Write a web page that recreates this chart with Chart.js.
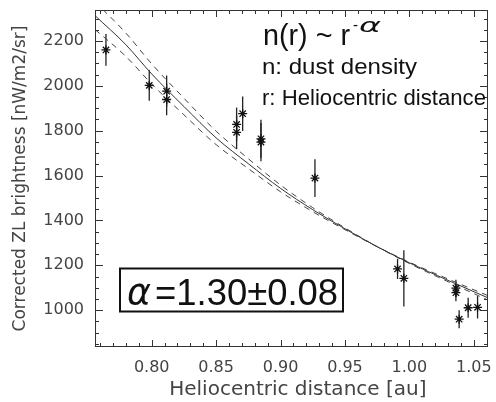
<!DOCTYPE html>
<html><head><meta charset="utf-8">
<script src="https://cdn.jsdelivr.net/npm/chart.js@4.4.1/dist/chart.umd.min.js"></script>
<style>html,body{margin:0;padding:0;background:#fff;}#wrap{width:496px;height:402px;}</style>
</head><body><div id="wrap"><canvas id="c" width="496" height="402"></canvas></div>
<script>
// Observations
const distance      = [0.7645,0.7981,0.8116,0.8116,0.8659,0.8659,0.8706,0.8848,0.8848,0.9267,0.9908,0.9957,1.0361,1.0361,1.0386,1.0456,1.0529];
const brightness    = [2160,2002,1976,1939,1828,1793,1876,1764,1749,1589,1184,1142,1098,1078,960,1011,1013];
const brightnessErr = [71,69,70,70,75,75,77,85,85,84,45,125,38,38,40,45,50];
// Fitted curve and bounds
const fitDistance   = [0.756,0.78,0.80,0.825,0.85,0.875,0.90,0.925,0.95,0.975,1.00,1.03,1.061];
const fitBrightness = [2313,2183,2053,1908,1768,1653,1543,1448,1363,1283,1211,1133,1055];
const fitUpper      = [2375,2235,2098,1945,1798,1675,1558,1457,1367,1283,1208,1127,1045];
const fitLower      = [2251,2131,2008,1871,1738,1631,1528,1439,1359,1283,1214,1139,1065];
// Axes
const xTickValues = [0.80,0.85,0.90,0.95,1.00,1.05];
const yTickValues = [1000,1200,1400,1600,1800,2000,2200];
const xRange = [0.756, 1.061];
const yRange = [836, 2338];
const xMinorStep = 0.01, yMinorStep = 50;
const xTitle = 'Heliocentric distance [au]';
const yTitle = 'Corrected ZL brightness [nW/m2/sr]';
const alphaText = '=1.30±0.08';

const pts = (xs, ys) => xs.map((v,i)=>({x:v, y:ys[i]}));

const errorBars = {
  id:'errorBars',
  beforeDatasetsDraw(chart){
    const {ctx, scales:{x,y}} = chart;
    ctx.save();
    ctx.strokeStyle='#222'; ctx.lineWidth=1.3;
    distance.forEach((d,i)=>{
      const px = x.getPixelForValue(d);
      ctx.beginPath();
      ctx.moveTo(px, y.getPixelForValue(brightness[i]-brightnessErr[i]));
      ctx.lineTo(px, y.getPixelForValue(brightness[i]+brightnessErr[i]));
      ctx.stroke();
    });
    ctx.restore();
  }
};

const frameTicks = {
  id:'frameTicks',
  afterDraw(chart){
    const {ctx, chartArea:a, scales:{x,y}} = chart;
    ctx.save();
    ctx.strokeStyle='#333'; ctx.lineWidth=1;
    ctx.strokeRect(a.left+0.5, a.top+0.5, a.right-a.left-1, a.bottom-a.top-1);
    ctx.beginPath();
    const nx0 = Math.ceil(xRange[0]/xMinorStep), nx1 = Math.floor(xRange[1]/xMinorStep);
    for(let k=nx0;k<=nx1;k++){
      const px = Math.round(x.getPixelForValue(k*xMinorStep))+0.5;
      const L = (k%5===0)?7:4;
      ctx.moveTo(px,a.bottom); ctx.lineTo(px,a.bottom-L);
      ctx.moveTo(px,a.top); ctx.lineTo(px,a.top+L);
    }
    const ny0 = Math.ceil(yRange[0]/yMinorStep), ny1 = Math.floor(yRange[1]/yMinorStep);
    for(let k=ny0;k<=ny1;k++){
      const py = Math.round(y.getPixelForValue(k*yMinorStep))+0.5;
      const L = ((k*yMinorStep)%200===0)?8:4;
      ctx.moveTo(a.left,py); ctx.lineTo(a.left+L,py);
      ctx.moveTo(a.right,py); ctx.lineTo(a.right-L,py);
    }
    ctx.stroke();
    ctx.restore();
  }
};

function fitText(ctx, text, x, y, font, width){
  ctx.save();
  ctx.font = font;
  const w = ctx.measureText(text).width;
  ctx.translate(x,y);
  ctx.scale(width/w,1);
  ctx.fillText(text,0,0);
  ctx.restore();
}

const annotations = {
  id:'annotations',
  afterDraw(chart){
    const ctx = chart.ctx;
    ctx.save();
    ctx.fillStyle='#111';
    ctx.textBaseline='alphabetic';
    fitText(ctx,'n(r) ~ r',263,45,'30px "Liberation Sans"',87);
    fitText(ctx,'-',353,30,'17px "Liberation Sans"',5);
    fitText(ctx,'α',359,32,'italic 20px "DejaVu Sans"',22);
    fitText(ctx,'n: dust density',262,74,'22px "Liberation Sans"',155);
    fitText(ctx,'r: Heliocentric distance',262,105,'22px "Liberation Sans"',224);
    // boxed alpha
    ctx.strokeStyle='#111'; ctx.lineWidth=2;
    ctx.strokeRect(120,268.5,223,43);
    fitText(ctx,'α',127,304,'italic 38px "DejaVu Sans"',24);
    fitText(ctx,alphaText,155,305,'36px "Liberation Sans"',183);
    ctx.restore();
  }
};

new Chart(document.getElementById('c'),{
  type:'scatter',
  data:{datasets:[
    {data:pts(distance,brightness), pointStyle:'star', pointRadius:4.5, borderColor:'#111', borderWidth:1.3, backgroundColor:'#111'},
    {data:pts(fitDistance,fitBrightness), showLine:true, pointRadius:0, borderColor:'#333', borderWidth:1, cubicInterpolationMode:'monotone'},
    {data:pts(fitDistance,fitUpper), showLine:true, pointRadius:0, borderColor:'#444', borderWidth:1, borderDash:[6,5], cubicInterpolationMode:'monotone'},
    {data:pts(fitDistance,fitLower), showLine:true, pointRadius:0, borderColor:'#444', borderWidth:1, borderDash:[6,5], cubicInterpolationMode:'monotone'}
  ]},
  options:{
    responsive:false, animation:false, devicePixelRatio:1,
    layout:{padding:{top:10,right:8,left:0,bottom:0}},
    plugins:{legend:{display:false}, tooltip:{enabled:false}},
    scales:{
      x:{type:'linear', min:xRange[0], max:xRange[1],
        grid:{display:false, drawTicks:false}, border:{display:false},
        afterBuildTicks:s=>{s.ticks = xTickValues.map(v=>({value:v}));},
        afterFit:s=>{s.height=55; s.paddingLeft=0; s.paddingRight=0; s.paddingTop=0; s.paddingBottom=0;},
        ticks:{padding:11, autoSkip:false, maxRotation:0, color:'#444', font:{family:'DejaVu Sans', size:16}, callback:v=>Number(v).toFixed(2)},
        title:{display:true, text:'  '+xTitle, color:'#444', font:{family:'DejaVu Sans', size:20}, padding:{top:3,bottom:0}}
      },
      y:{type:'linear', min:yRange[0], max:yRange[1],
        grid:{display:false, drawTicks:false}, border:{display:false},
        afterBuildTicks:s=>{s.ticks = yTickValues.map(v=>({value:v}));},
        afterFit:s=>{s.width=95; s.paddingLeft=0; s.paddingRight=0; s.paddingTop=0; s.paddingBottom=0;},
        ticks:{padding:11, autoSkip:false, color:'#444', font:{family:'DejaVu Sans', size:16}, callback:v=>String(v)},
        title:{display:true, text:yTitle, color:'#444', font:{family:'DejaVu Sans', size:17}, padding:{top:10,bottom:0}}
      }
    }
  },
  plugins:[errorBars, frameTicks, annotations]
});
</script></body></html>
